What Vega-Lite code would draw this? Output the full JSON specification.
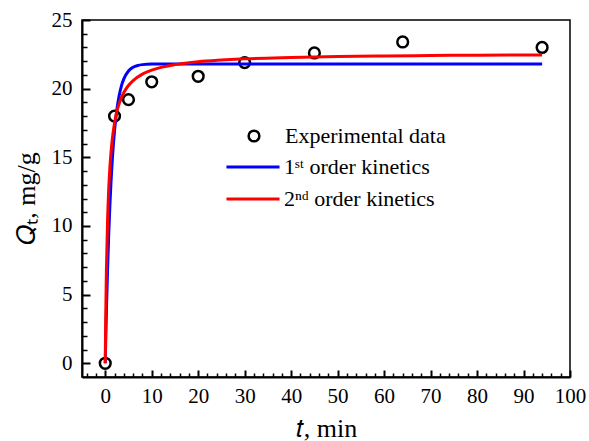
{
  "$schema": "https://vega.github.io/schema/vega-lite/v6.json",
  "width": 488,
  "height": 357,
  "autosize": "none",
  "padding": {"left": 82, "top": 20, "right": 19, "bottom": 64},
  "background": "white",
  "config": {
    "view": {"stroke": "black", "strokeWidth": 1.5},
    "font": "Liberation Serif",
    "axis": {
      "labelFont": "Liberation Serif", "titleFont": "Liberation Serif",
      "labelColor": "black", "titleColor": "black",
      "domainColor": "black", "tickColor": "black", "grid": false,
      "labelFontSize": 21, "titleFontSize": 26, "titleFontWeight": "normal",
      "labelFlush": false, "labelOverlap": false
    },
    "legend": {
      "labelFont": "Liberation Serif", "labelFontSize": 22, "labelColor": "black",
      "labelLimit": 400, "orient": "none", "title": null
    }
  },
  "datasets": {
    "exp": [
      {"t": 0, "Q": 0, "series": "Experimental data"},
      {"t": 2, "Q": 18.0, "series": "Experimental data"},
      {"t": 5, "Q": 19.2, "series": "Experimental data"},
      {"t": 10, "Q": 20.5, "series": "Experimental data"},
      {"t": 20, "Q": 20.9, "series": "Experimental data"},
      {"t": 30, "Q": 21.9, "series": "Experimental data"},
      {"t": 45, "Q": 22.6, "series": "Experimental data"},
      {"t": 64, "Q": 23.4, "series": "Experimental data"},
      {"t": 94, "Q": 23.0, "series": "Experimental data"}
    ],
    "fit": [
      {"t": 0, "Q": 0, "model": "1ˢᵗ order kinetics"},
      {"t": 0.1, "Q": 1.58, "model": "1ˢᵗ order kinetics"},
      {"t": 0.25, "Q": 3.73, "model": "1ˢᵗ order kinetics"},
      {"t": 0.5, "Q": 6.82, "model": "1ˢᵗ order kinetics"},
      {"t": 0.75, "Q": 9.38, "model": "1ˢᵗ order kinetics"},
      {"t": 1, "Q": 11.5, "model": "1ˢᵗ order kinetics"},
      {"t": 1.25, "Q": 13.26, "model": "1ˢᵗ order kinetics"},
      {"t": 1.5, "Q": 14.72, "model": "1ˢᵗ order kinetics"},
      {"t": 2, "Q": 16.94, "model": "1ˢᵗ order kinetics"},
      {"t": 2.5, "Q": 18.46, "model": "1ˢᵗ order kinetics"},
      {"t": 3, "Q": 19.5, "model": "1ˢᵗ order kinetics"},
      {"t": 3.5, "Q": 20.22, "model": "1ˢᵗ order kinetics"},
      {"t": 4, "Q": 20.71, "model": "1ˢᵗ order kinetics"},
      {"t": 5, "Q": 21.29, "model": "1ˢᵗ order kinetics"},
      {"t": 6, "Q": 21.56, "model": "1ˢᵗ order kinetics"},
      {"t": 7, "Q": 21.69, "model": "1ˢᵗ order kinetics"},
      {"t": 8, "Q": 21.75, "model": "1ˢᵗ order kinetics"},
      {"t": 10, "Q": 21.79, "model": "1ˢᵗ order kinetics"},
      {"t": 15, "Q": 21.8, "model": "1ˢᵗ order kinetics"},
      {"t": 94, "Q": 21.8, "model": "1ˢᵗ order kinetics"},
      {"t": 0, "Q": 0, "model": "2ⁿᵈ order kinetics"},
      {"t": 0.1, "Q": 3.3, "model": "2ⁿᵈ order kinetics"},
      {"t": 0.25, "Q": 6.77, "model": "2ⁿᵈ order kinetics"},
      {"t": 0.5, "Q": 10.42, "model": "2ⁿᵈ order kinetics"},
      {"t": 0.75, "Q": 12.7, "model": "2ⁿᵈ order kinetics"},
      {"t": 1, "Q": 14.26, "model": "2ⁿᵈ order kinetics"},
      {"t": 1.25, "Q": 15.4, "model": "2ⁿᵈ order kinetics"},
      {"t": 1.5, "Q": 16.26, "model": "2ⁿᵈ order kinetics"},
      {"t": 2, "Q": 17.49, "model": "2ⁿᵈ order kinetics"},
      {"t": 2.5, "Q": 18.32, "model": "2ⁿᵈ order kinetics"},
      {"t": 3, "Q": 18.91, "model": "2ⁿᵈ order kinetics"},
      {"t": 3.5, "Q": 19.36, "model": "2ⁿᵈ order kinetics"},
      {"t": 4, "Q": 19.72, "model": "2ⁿᵈ order kinetics"},
      {"t": 5, "Q": 20.23, "model": "2ⁿᵈ order kinetics"},
      {"t": 6, "Q": 20.59, "model": "2ⁿᵈ order kinetics"},
      {"t": 8, "Q": 21.06, "model": "2ⁿᵈ order kinetics"},
      {"t": 10, "Q": 21.35, "model": "2ⁿᵈ order kinetics"},
      {"t": 12, "Q": 21.55, "model": "2ⁿᵈ order kinetics"},
      {"t": 15, "Q": 21.75, "model": "2ⁿᵈ order kinetics"},
      {"t": 20, "Q": 21.96, "model": "2ⁿᵈ order kinetics"},
      {"t": 25, "Q": 22.08, "model": "2ⁿᵈ order kinetics"},
      {"t": 30, "Q": 22.17, "model": "2ⁿᵈ order kinetics"},
      {"t": 40, "Q": 22.27, "model": "2ⁿᵈ order kinetics"},
      {"t": 50, "Q": 22.34, "model": "2ⁿᵈ order kinetics"},
      {"t": 60, "Q": 22.38, "model": "2ⁿᵈ order kinetics"},
      {"t": 70, "Q": 22.41, "model": "2ⁿᵈ order kinetics"},
      {"t": 80, "Q": 22.44, "model": "2ⁿᵈ order kinetics"},
      {"t": 94, "Q": 22.46, "model": "2ⁿᵈ order kinetics"}
    ]
  },
  "layer": [
    {
      "data": {"name": "exp"},
      "mark": {"type": "point", "filled": false, "color": "black", "strokeWidth": 2.5, "size": 115, "opacity": 1},
      "encoding": {
        "x": {"field": "t", "type": "quantitative",
          "scale": {"domain": [-5, 100], "nice": false, "zero": false},
          "axis": {"orient": "bottom", "values": [-4, -2, 2, 4, 6, 8, 12, 14, 16, 18, 22, 24, 26, 28, 32, 34, 36, 38, 42, 44, 46, 48, 52, 54, 56, 58, 62, 64, 66, 68, 72, 74, 76, 78, 82, 84, 86, 88, 92, 94, 96, 98],
            "labels": false, "domain": false, "tickSize": -4, "tickWidth": 1.5, "title": null}},
        "y": {"field": "Q", "type": "quantitative",
          "scale": {"domain": [-1, 25], "nice": false, "zero": false},
          "axis": {"orient": "left", "values": [1, 2, 3, 4, 6, 7, 8, 9, 11, 12, 13, 14, 16, 17, 18, 19, 21, 22, 23, 24],
            "labels": false, "domain": false, "tickSize": -5, "tickWidth": 1.5, "title": null}},
        "shape": {"field": "series", "type": "nominal",
          "scale": {"domain": ["Experimental data"], "range": ["circle"]},
          "legend": {"legendX": 161, "legendY": 105, "symbolSize": 115, "symbolStrokeWidth": 2.5,
            "symbolStrokeColor": "black", "symbolFillColor": "transparent", "labelOffset": 20,
            "labelFont": "Liberation Serif", "labelFontSize": 22, "labelLimit": 400}}
      }
    },
    {
      "data": {"name": "fit"},
      "mark": {"type": "line", "strokeWidth": 3, "interpolate": "monotone"},
      "encoding": {
        "x": {"field": "t", "type": "quantitative",
          "scale": {"domain": [-5, 100], "nice": false, "zero": false},
          "axis": {"orient": "bottom", "values": [0, 10, 20, 30, 40, 50, 60, 70, 80, 90, 100],
            "tickSize": -7, "tickWidth": 2, "domainWidth": 2, "labelPadding": 15,
            "title": "𝑡, min", "titleX": 244, "titleY": 51, "titleBaseline": "middle", "titleAlign": "center"}},
        "y": {"field": "Q", "type": "quantitative",
          "scale": {"domain": [-1, 25], "nice": false, "zero": false},
          "axis": {"orient": "left", "values": [0, 5, 10, 15, 20, 25],
            "tickSize": -8, "tickWidth": 2, "domainWidth": 2, "labelPadding": 18,
            "title": "𝑄ₜ, mg/g", "titleX": -56, "titleY": 178, "titleAngle": -90, "titleBaseline": "middle", "titleAlign": "center"}},
        "color": {"field": "model", "type": "nominal",
          "scale": {"domain": ["1ˢᵗ order kinetics", "2ⁿᵈ order kinetics"], "range": ["#0000ff", "#ff0000"]},
          "legend": {"legendX": 160, "legendY": 136, "symbolType": "M-4,0H4", "symbolSize": 176,
            "symbolStrokeWidth": 3, "symbolFillColor": "transparent", "labelOffset": 20, "rowPadding": 10,
            "labelFont": "Liberation Serif", "labelFontSize": 22, "labelLimit": 400}}
      }
    }
  ],
  "resolve": {"axis": {"x": "independent", "y": "independent"}, "legend": {"color": "independent", "shape": "independent"}}
}
